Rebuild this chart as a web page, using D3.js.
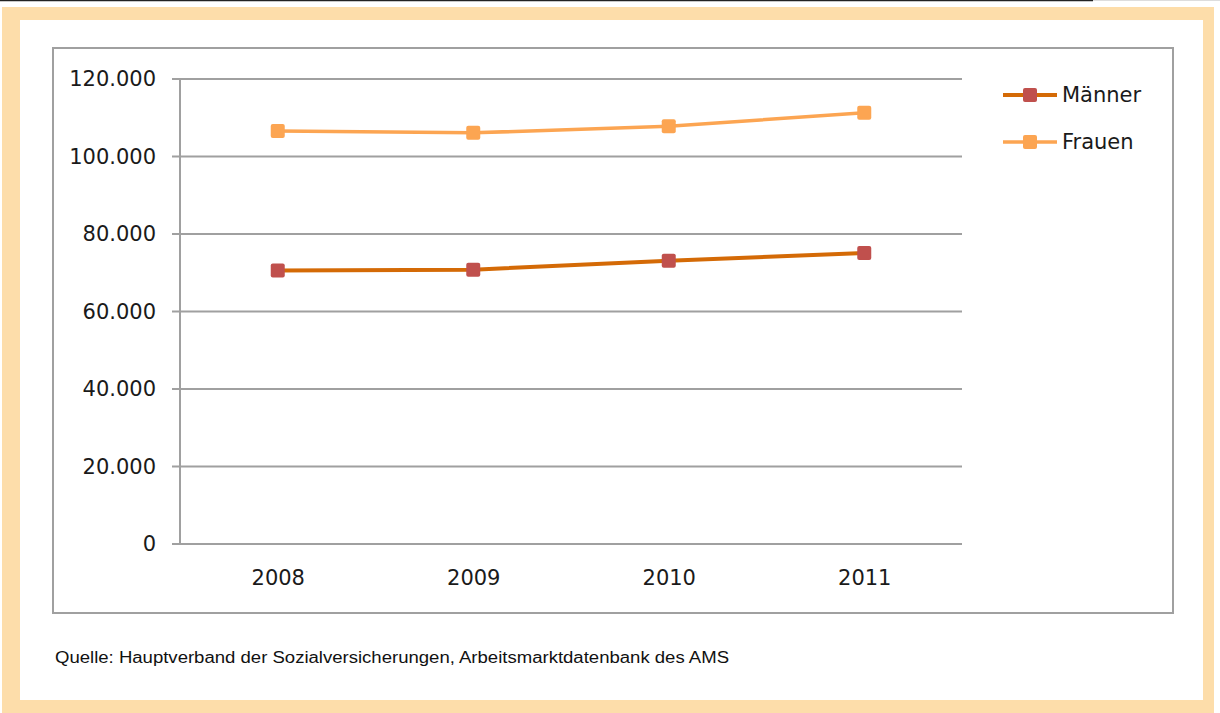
<!DOCTYPE html>
<html>
<head>
<meta charset="utf-8">
<script src="https://cdn.jsdelivr.net/npm/d3@7.9.0/dist/d3.min.js"></script>
<style>
  body { margin: 0; background: #fff; }
  svg { display: block; }
</style>
</head>
<body>
<svg id="chart" width="1220" height="713"></svg>
<script>
// Data
const years = ["2008", "2009", "2010", "2011"];
const maenner = [70600, 70800, 73100, 75100];
const frauen = [106600, 106100, 107800, 111300];
const yTicks = [0, 20000, 40000, 60000, 80000, 100000, 120000];
const seriesNames = ["Männer", "Frauen"];
const source = "Quelle: Hauptverband der Sozialversicherungen, Arbeitsmarktdatenbank des AMS";

const svg = d3.select("#chart");
const font = "'DejaVu Sans', Verdana, sans-serif";

// Frame: orange border + white card
svg.append("line")
  .attr("x1", 0).attr("x2", 1093).attr("y1", 0.5).attr("y2", 0.5)
  .attr("stroke", "#222").attr("stroke-width", 1.5);
svg.append("line")
  .attr("x1", 1093).attr("x2", 1220).attr("y1", 0.5).attr("y2", 0.5)
  .attr("stroke", "#ddd").attr("stroke-width", 1);
svg.append("rect")
  .attr("x", 2).attr("y", 7).attr("width", 1212).attr("height", 706)
  .attr("fill", "#FDDDAA");
svg.append("rect")
  .attr("x", 20).attr("y", 20).attr("width", 1183).attr("height", 680)
  .attr("fill", "#fff");

// Chart box
svg.append("rect")
  .attr("x", 53).attr("y", 48).attr("width", 1120).attr("height", 565)
  .attr("fill", "#fff").attr("stroke", "#A0A0A0").attr("stroke-width", 2);

// Scales
const plot = { left: 180, right: 962, top: 79, bottom: 544 };
const x = d3.scalePoint().domain(years).range([plot.left, plot.right]).padding(0.5);
const y = d3.scaleLinear().domain([0, 120000]).range([plot.bottom, plot.top]);

const de = d3.formatLocale({ decimal: ",", thousands: ".", grouping: [3], currency: ["", "€"] });
const fmt = de.format(",d");

// Gridlines
svg.append("g").selectAll("line")
  .data(yTicks)
  .join("line")
  .attr("x1", plot.left - 8).attr("x2", plot.right)
  .attr("y1", (d) => y(d)).attr("y2", (d) => y(d))
  .attr("stroke", "#A0A0A0").attr("stroke-width", 2);

// Y axis (labels only; line drawn below)
const yAxis = svg.append("g")
  .attr("transform", `translate(${plot.left},0)`)
  .call(d3.axisLeft(y).tickValues(yTicks).tickFormat(fmt).tickSize(0).tickPadding(24));
yAxis.select(".domain").remove();
yAxis.selectAll("text")
  .attr("font-family", font).attr("font-size", 21).attr("fill", "#1a1a1a");

svg.append("line")
  .attr("x1", plot.left).attr("x2", plot.left)
  .attr("y1", plot.top).attr("y2", plot.bottom + 1)
  .attr("stroke", "#A0A0A0").attr("stroke-width", 2);

// X axis labels
const xAxis = svg.append("g")
  .attr("transform", `translate(0,${plot.bottom})`)
  .call(d3.axisBottom(x).tickSize(0).tickPadding(26));
xAxis.select(".domain").remove();
xAxis.selectAll("text")
  .attr("font-family", font).attr("font-size", 21).attr("fill", "#1a1a1a");

// Series
const series = [
  { name: seriesNames[0], values: maenner, line: "#D46A06", marker: "#C0504D", width: 4 },
  { name: seriesNames[1], values: frauen, line: "#FCA552", marker: "#FCA552", width: 3.5 },
];

const lineGen = d3.line()
  .x((d, i) => x(years[i]))
  .y((d) => y(d));

const ms = 14;
series.forEach((s) => {
  svg.append("path")
    .attr("d", lineGen(s.values))
    .attr("fill", "none")
    .attr("stroke", s.line)
    .attr("stroke-width", s.width);

  svg.append("g").selectAll("rect")
    .data(s.values)
    .join("rect")
    .attr("x", (d, i) => x(years[i]) - ms / 2)
    .attr("y", (d) => y(d) - ms / 2)
    .attr("width", ms).attr("height", ms)
    .attr("rx", 2)
    .attr("fill", s.marker);
});

// Legend
const legend = svg.append("g").attr("transform", "translate(1003,95)");
series.forEach((s, i) => {
  const g = legend.append("g").attr("transform", `translate(0,${i * 47})`);
  g.append("line")
    .attr("x1", 0).attr("x2", 54)
    .attr("stroke", s.line).attr("stroke-width", s.width);
  g.append("rect")
    .attr("x", 27 - ms / 2).attr("y", -ms / 2)
    .attr("width", ms).attr("height", ms).attr("rx", 2)
    .attr("fill", s.marker);
  g.append("text")
    .attr("x", 59).attr("dy", "0.35em")
    .attr("font-family", font).attr("font-size", 21).attr("fill", "#1a1a1a")
    .text(s.name);
});

// Source note
svg.append("text")
  .attr("x", 55).attr("y", 663)
  .attr("font-family", "'Liberation Sans', Arial, sans-serif")
  .attr("font-size", 16)
  .attr("fill", "#111")
  .attr("textLength", 674)
  .attr("lengthAdjust", "spacingAndGlyphs")
  .text(source);
</script>
</body>
</html>
